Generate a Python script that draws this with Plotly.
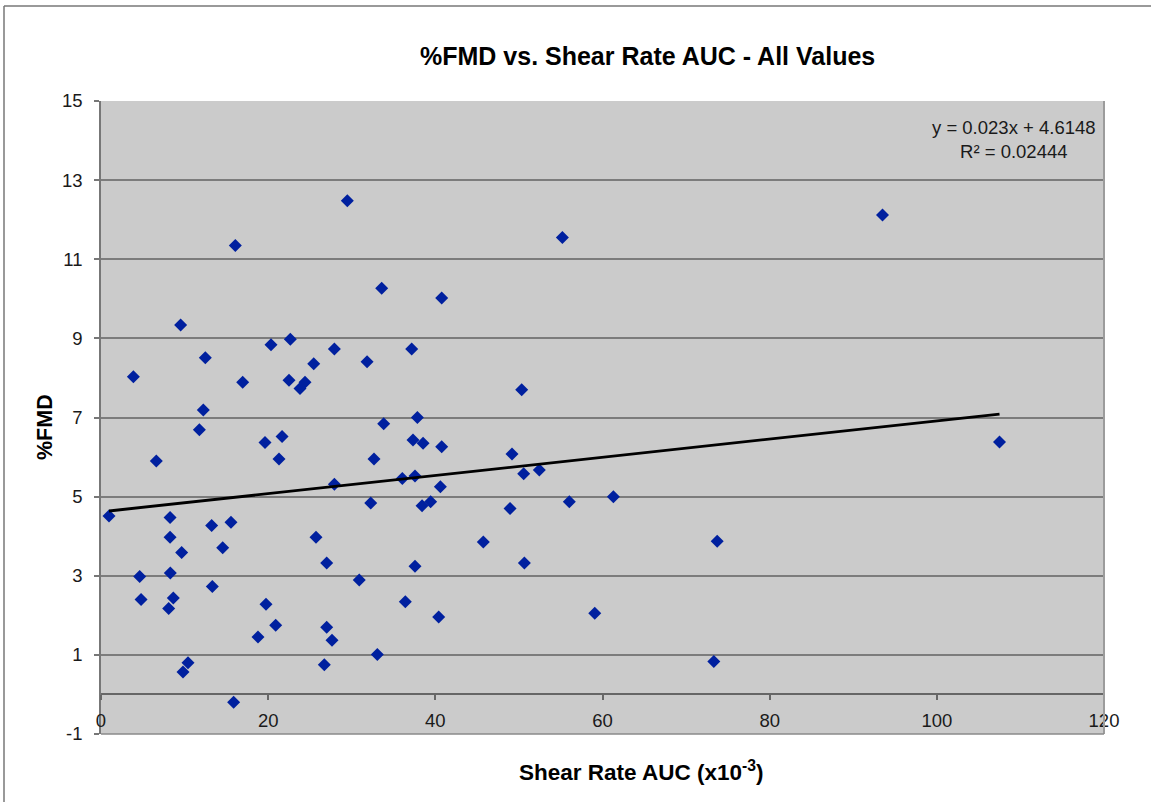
import plotly.graph_objects as go

# Shear rate AUC (x10^-3) and %FMD for every subject
shear_auc = [
    29.47, 16.07, 33.58, 9.53, 3.87, 12.48, 20.34, 22.65, 27.92, 31.83,
    25.45, 16.95, 22.49, 24.41, 23.81, 12.24, 11.77, 33.82, 19.62, 21.66,
    6.62, 21.30, 32.66, 27.92, 32.27, 0.96, 8.26, 13.24, 15.55, 8.26,
    25.72, 14.56, 9.65, 27.00, 4.63, 8.29, 30.90, 13.32, 4.79, 8.65,
    8.10, 19.74, 20.90, 18.78, 27.00, 27.64, 33.06, 10.41, 9.81, 26.72,
    15.87, 55.20, 40.76, 37.17, 50.33, 37.85, 37.33, 38.53, 40.76, 49.17,
    50.57, 52.44, 36.05, 37.57, 40.60, 38.41, 39.44, 48.94, 56.03, 61.30,
    45.74, 37.57, 50.65, 36.41, 40.40, 59.07, 73.72, 73.32, 107.5, 93.5,
]
fmd_pct = [
    12.48, 11.35, 10.27, 9.34, 8.03, 8.51, 8.84, 8.98, 8.73, 8.41,
    8.36, 7.89, 7.94, 7.89, 7.73, 7.19, 6.69, 6.84, 6.37, 6.52,
    5.90, 5.95, 5.95, 5.31, 4.84, 4.51, 4.47, 4.27, 4.35, 3.97,
    3.97, 3.71, 3.59, 3.32, 2.98, 3.07, 2.89, 2.73, 2.40, 2.44,
    2.17, 2.28, 1.75, 1.45, 1.70, 1.37, 1.01, 0.80, 0.57, 0.75,
    -0.20, 11.55, 10.02, 8.73, 7.70, 7.00, 6.43, 6.35, 6.26, 6.08,
    5.58, 5.67, 5.46, 5.52, 5.25, 4.77, 4.87, 4.70, 4.87, 5.00,
    3.85, 3.24, 3.32, 2.34, 1.96, 2.05, 3.87, 0.83, 6.38, 12.12,
]

# Linear trend line coefficients
slope = 0.023
intercept = 4.6148
r_squared = 0.02444

x_ticks = [0, 20, 40, 60, 80, 100, 120]
y_ticks = [-1, 1, 3, 5, 7, 9, 11, 13, 15]
x_range = [0, 120]
y_range = [-1, 15]

W, H = 1151, 802
ML, MR, MT, MB = 101, 47, 101, 68
PW, PH = W - ML - MR, H - MT - MB


def px_x(px):
    return (px - ML) / PW


def px_y(py):
    return (H - MB - py) / PH


FONT = "Liberation Sans, Arial, sans-serif"
GRID = "#7c7c7c"
TICK_FONT = dict(family=FONT, size=18.5, color="#1a1a1a")

fig = go.Figure()

fig.add_trace(go.Scatter(
    x=shear_auc, y=fmd_pct, mode="markers",
    marker=dict(symbol="diamond", size=10, color="#00209F", line=dict(width=0)),
    showlegend=False, hoverinfo="x+y",
))

x0, x1 = min(shear_auc), max(shear_auc)
fig.add_trace(go.Scatter(
    x=[x0, x1], y=[slope * x0 + intercept, slope * x1 + intercept],
    mode="lines", line=dict(color="black", width=2.8),
    showlegend=False, hoverinfo="skip",
))

# x axis crosses the y axis at zero
zero_pos = (0 - y_range[0]) / (y_range[1] - y_range[0])

fig.update_layout(
    width=W, height=H,
    margin=dict(l=ML, r=MR, t=MT, b=MB, pad=0),
    paper_bgcolor="white",
    plot_bgcolor="#CBCBCB",
    font=dict(family=FONT, size=18, color="#1a1a1a"),
    xaxis=dict(
        range=x_range, tickvals=x_ticks, ticktext=[str(v) for v in x_ticks],
        showgrid=False, zeroline=False,
        anchor="free", position=zero_pos,
        showline=True, linecolor="#666666", linewidth=1.5,
        ticks="outside", ticklen=5, tickwidth=1.5, tickcolor="#666666",
        ticklabelstandoff=5,
        tickfont=TICK_FONT,
    ),
    yaxis=dict(
        range=y_range, tickvals=y_ticks, ticktext=[str(v) for v in y_ticks],
        domain=[0, 1],
        showgrid=True, gridcolor=GRID, gridwidth=1.5,
        zeroline=False,
        showline=True, linecolor="#777777", linewidth=1.5,
        ticks="outside", ticklen=5, tickwidth=1.5, tickcolor="#777777",
        ticklabelstandoff=8,
        tickfont=TICK_FONT,
    ),
    shapes=[
        # right and bottom edges of the plot area
        dict(type="line", xref="paper", yref="paper", x0=1, x1=1, y0=0, y1=1,
             line=dict(color="#9c9c9c", width=2), layer="above"),
        dict(type="line", xref="paper", yref="paper", x0=0, x1=1, y0=0, y1=0,
             line=dict(color="#8a8a8a", width=1.5), layer="above"),
        # chart frame, top and left
        dict(type="line", xref="paper", yref="paper",
             x0=px_x(4), x1=px_x(W + 2), y0=px_y(6), y1=px_y(6),
             line=dict(color="#777777", width=1.5)),
        dict(type="line", xref="paper", yref="paper",
             x0=px_x(4), x1=px_x(4), y0=px_y(6), y1=px_y(H + 2),
             line=dict(color="#777777", width=1.5)),
    ],
    annotations=[
        dict(text="<b>%FMD vs. Shear Rate AUC - All Values</b>",
             xref="paper", yref="paper", x=px_x(647), y=px_y(56),
             xanchor="center", yanchor="middle", showarrow=False,
             font=dict(family=FONT, size=25, color="black")),
        dict(text="<b>Shear Rate AUC (x10<sup>-3</sup>)</b>",
             xref="paper", yref="paper", x=px_x(641), y=px_y(771),
             xanchor="center", yanchor="middle", showarrow=False,
             font=dict(family=FONT, size=22.5, color="black")),
        dict(text="<b>%FMD</b>",
             xref="paper", yref="paper", x=px_x(45), y=px_y(427),
             xanchor="center", yanchor="middle", showarrow=False, textangle=-90,
             font=dict(family=FONT, size=21.5, color="black")),
        dict(text=f"y = {slope}x + {intercept}<br>R² = {r_squared}",
             xref="paper", yref="paper", x=px_x(1014), y=px_y(139),
             xanchor="center", yanchor="middle", align="center", showarrow=False,
             font=dict(family=FONT, size=18.5, color="#1a1a1a")),
    ],
)

fig.write_html("out.html")
